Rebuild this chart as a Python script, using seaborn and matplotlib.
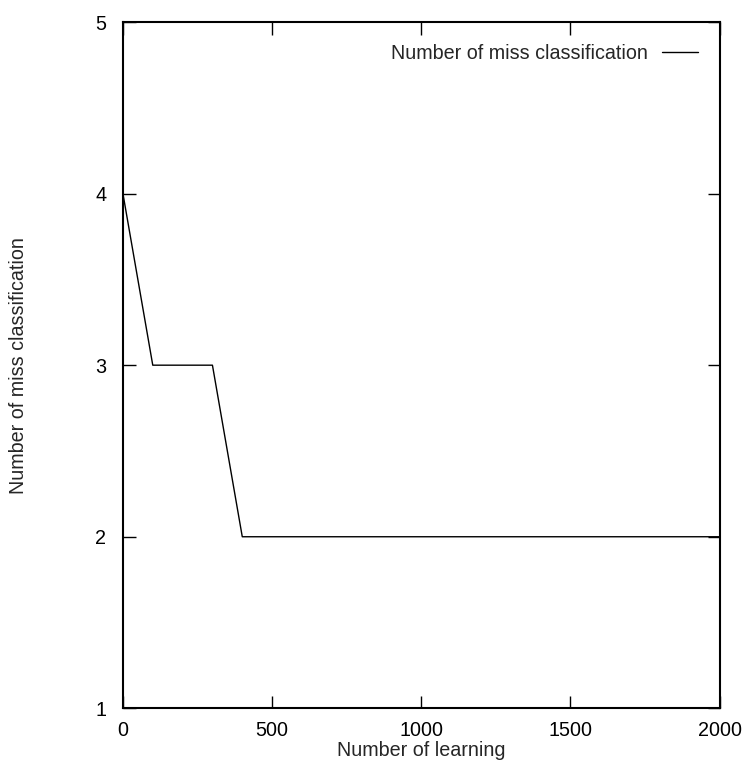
import numpy as np
import pandas as pd
import seaborn as sns
import matplotlib.pyplot as plt

# Data
learning = [0, 100, 200, 300, 400, 500, 1000, 1500, 2000]
miss = [4, 3, 3, 3, 2, 2, 2, 2, 2]

df = pd.DataFrame({"learning": learning, "miss": miss})

sns.set_style("ticks")
plt.rcParams['font.family'] = ['Liberation Sans', 'DejaVu Sans']

fs = 14.2

fig = plt.figure(figsize=(7.45, 7.6), dpi=100)
ax = fig.add_axes([0.165, 0.068, 0.801, 0.903])

sns.lineplot(data=df, x="learning", y="miss", ax=ax, color="black",
             linewidth=1.0, label="Number of miss classification")

ax.set_xlim(0, 2000)
ax.set_ylim(1, 5)
ax.set_xticks([0, 500, 1000, 1500, 2000])
ax.set_yticks([1, 2, 3, 4, 5])
ax.tick_params(direction="in", length=9, width=1.0, top=True, right=True,
               labelsize=fs, colors="black")
ax.tick_params(axis="x", pad=9)
ax.tick_params(axis="y", pad=12)
for s in ax.spines.values():
    s.set_linewidth(1.5)
    s.set_color("black")

ax.set_xlabel("Number of learning", fontsize=fs)
ax.set_ylabel("Number of miss classification", fontsize=fs)
ax.xaxis.set_label_coords(0.5, -0.048)
ax.yaxis.set_label_coords(-0.159, 0.5)

ax.legend(loc="upper right", frameon=False, markerfirst=False,
          handlelength=1.8, handletextpad=0.75, fontsize=fs,
          borderaxespad=0.7, borderpad=0.4)

plt.savefig("out.png", dpi=100)
plt.close()
